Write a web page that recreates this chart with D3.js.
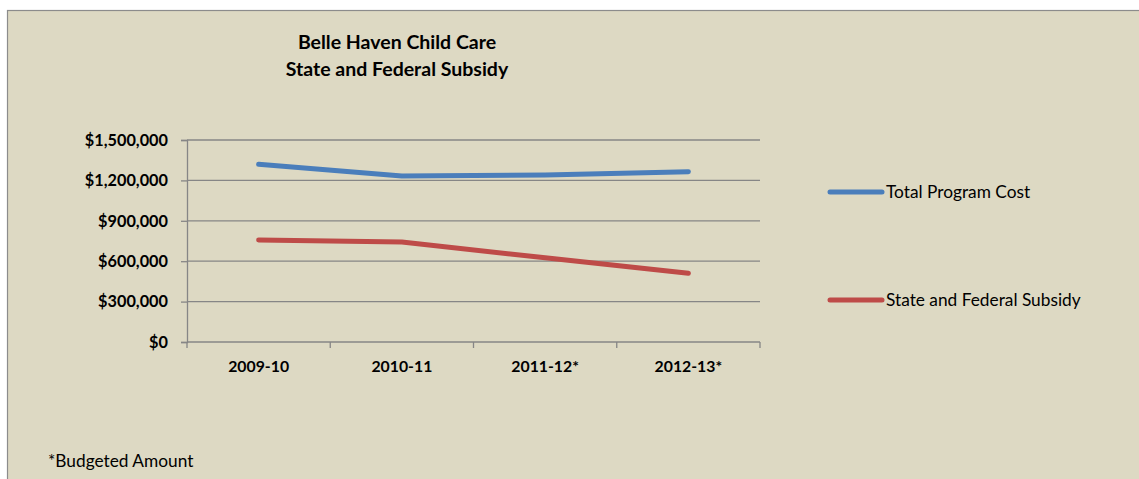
<!DOCTYPE html>
<html>
<head>
<meta charset="utf-8">
<script src="https://cdn.jsdelivr.net/npm/d3@7"></script>
<style>
  body { margin: 0; background: #fff; }
  text { font-family: Lato, "Open Sans", sans-serif; fill: #000; }
</style>
</head>
<body>
<div id="chart"></div>
<script>
// Data
var years = ["2009-10", "2010-11", "2011-12*", "2012-13*"];
var totalCost = [1320000, 1233000, 1240000, 1265000];
var subsidy = [757000, 742000, 625000, 510000];
var seriesNames = ["Total Program Cost", "State and Federal Subsidy"];
var yTicks = [0, 300000, 600000, 900000, 1200000, 1500000];

var W = 1139, H = 479;
var margin = { top: 140, left: 187, right: 379, bottom: 137 };
var width = W - margin.left - margin.right;
var height = H - margin.top - margin.bottom;

var svg = d3.select('#chart')
  .append('svg')
  .attr('width', W)
  .attr('height', H);

// chart area box
svg.append('rect')
  .attr('x', 7.5).attr('y', 10.5)
  .attr('width', W).attr('height', H)
  .attr('fill', '#DDD9C3')
  .attr('stroke', '#8c8c8c')
  .attr('stroke-width', 1.2);

// title
var title = svg.append('text')
  .attr('x', 397).attr('text-anchor', 'middle')
  .attr('font-weight', 'bold').attr('font-size', '19.5px');
title.append('tspan').attr('x', 397).attr('y', 49).text('Belle Haven Child Care');
title.append('tspan').attr('x', 397).attr('y', 76).text('State and Federal Subsidy');

var g = svg.append('g')
  .attr('transform', 'translate(' + margin.left + ',' + margin.top + ')');

// scales
var x = d3.scaleBand().domain(years).range([0, width]);
var y = d3.scaleLinear().domain([0, 1500000]).range([height, 0]);

// gridlines
g.append('g')
  .selectAll('line')
  .data(yTicks.slice(1))
  .enter().append('line')
  .attr('x1', 0).attr('x2', width)
  .attr('y1', function(d) { return y(d); })
  .attr('y2', function(d) { return y(d); })
  .attr('stroke', '#868686')
  .attr('stroke-width', 1.3);

// y axis
var yAxis = d3.axisLeft(y)
  .tickValues(yTicks)
  .tickSize(6)
  .tickPadding(13)
  .tickFormat(function(d) { return '$' + d3.format(',')(d); });

g.append('g')
  .attr('class', 'y axis')
  .call(yAxis)
  .call(function(s) {
    s.select('.domain').attr('stroke', '#868686').attr('stroke-width', 1.3);
    s.selectAll('.tick line').attr('stroke', '#868686').attr('stroke-width', 1.3);
    s.selectAll('.tick text')
      .attr('font-weight', 'bold').attr('font-size', '16.3px')
      .attr('font-family', 'Lato, sans-serif').attr('fill', '#000');
  });

// x axis: ticks between categories
var xAxisG = g.append('g')
  .attr('class', 'x axis')
  .attr('transform', 'translate(0,' + height + ')');

xAxisG.append('line')
  .attr('x1', 0).attr('x2', width)
  .attr('stroke', '#868686').attr('stroke-width', 1.3);

var bounds = years.map(function(d) { return x(d); }).concat([width]);
xAxisG.selectAll('.xt')
  .data(bounds)
  .enter().append('line')
  .attr('class', 'xt')
  .attr('x1', function(d) { return d; }).attr('x2', function(d) { return d; })
  .attr('y1', 0).attr('y2', 6)
  .attr('stroke', '#868686').attr('stroke-width', 1.3);

xAxisG.selectAll('.xl')
  .data(years)
  .enter().append('text')
  .attr('class', 'xl')
  .attr('x', function(d) { return x(d) + x.bandwidth() / 2; })
  .attr('y', 30)
  .attr('text-anchor', 'middle')
  .attr('font-weight', 'bold').attr('font-size', '15.8px')
  .text(function(d) { return d; });

// lines
var colors = ['#4A7EBB', '#BE4B48'];
var series = [totalCost, subsidy];

var line = d3.line()
  .x(function(d, i) { return x(years[i]) + x.bandwidth() / 2; })
  .y(function(d) { return y(d); });

series.forEach(function(s, i) {
  g.append('path')
    .datum(s)
    .attr('fill', 'none')
    .attr('stroke', colors[i])
    .attr('stroke-width', 5)
    .attr('stroke-linejoin', 'round')
    .attr('stroke-linecap', 'round')
    .attr('d', line);
});

// legend
var legendY = [192, 300];
seriesNames.forEach(function(name, i) {
  svg.append('line')
    .attr('x1', 830).attr('x2', 882)
    .attr('y1', legendY[i]).attr('y2', legendY[i])
    .attr('stroke', colors[i]).attr('stroke-width', 5)
    .attr('stroke-linecap', 'round');
  svg.append('text')
    .attr('x', 886).attr('y', legendY[i] + 6)
    .attr('font-size', '17.3px')
    .text(name);
});

// footnote
svg.append('text')
  .attr('x', 48).attr('y', 467)
  .attr('font-size', '17.3px')
  .text('*Budgeted Amount');
</script>
</body>
</html>
